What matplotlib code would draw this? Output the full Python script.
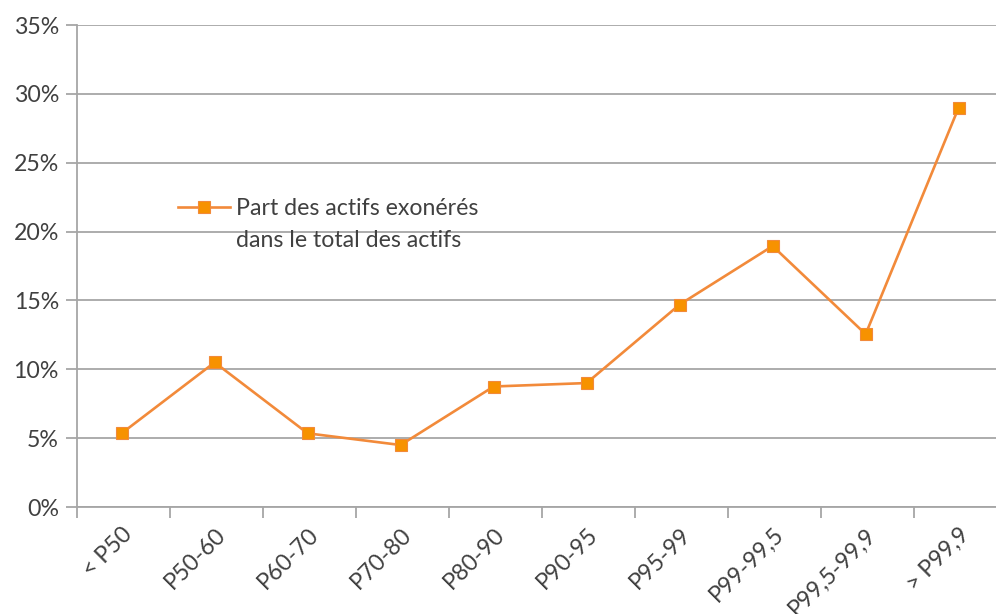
import matplotlib
matplotlib.use("Agg")
import matplotlib.pyplot as plt
from matplotlib.ticker import FixedLocator, NullFormatter, FuncFormatter

categories = ["< P50", "P50-60", "P60-70", "P70-80", "P80-90", "P90-95",
              "P95-99", "P99-99,5", "P99,5-99,9", "> P99,9"]
share_exempt = [5.35, 10.5, 5.35, 4.5, 8.75, 9.0, 14.7, 18.95, 12.55, 29.0]
series_label = ["Part des actifs exonérés", "dans le total des actifs"]
y_ticks = [0, 5, 10, 15, 20, 25, 30, 35]

plt.rcParams["font.family"] = ["Lato", "DejaVu Sans"]
text_color = "#404040"
grid_color = "#a6a6a6"
fs = 16.7

W, H = 996, 614
fig = plt.figure(figsize=(W / 100, H / 100), dpi=100)
ax = fig.add_axes([77 / W, 107 / H, 930 / W, 482 / H])

x = list(range(len(categories)))
ax.plot(x, share_exempt, color="#F28A3A", lw=1.9, marker="s", ms=8.5,
        mfc="#F79200", mec="#F28A3A", mew=0.8, label=series_label[0], zorder=3)

ax.set_xlim(-0.48, len(categories) - 0.48)
ax.set_ylim(0, 35)

ax.set_yticks(y_ticks)
ax.yaxis.set_major_formatter(FuncFormatter(lambda v, p: f"{v:.0f}%"))
ax.grid(axis="y", color=grid_color, lw=1.3)
ax.set_axisbelow(True)

ax.xaxis.set_major_locator(FixedLocator([i - 0.48 for i in range(len(categories) + 1)]))
ax.xaxis.set_major_formatter(NullFormatter())
ax.xaxis.set_minor_locator(FixedLocator(x))
ax.set_xticklabels(categories, minor=True)
ax.tick_params(axis="x", which="minor", length=0, pad=12, labelsize=fs,
               labelcolor=text_color, labelrotation=45)
for lbl in ax.get_xticklabels(minor=True):
    lbl.set_ha("right")
    lbl.set_va("top")
    lbl.set_rotation_mode("anchor")
ax.tick_params(axis="x", which="major", length=8, color=grid_color, width=1.3)
ax.tick_params(axis="y", length=8, color=grid_color, width=1.3, pad=5,
               labelsize=fs, labelcolor=text_color)

for s in ("top", "right"):
    ax.spines[s].set_visible(False)
for s in ("left", "bottom"):
    ax.spines[s].set_color(grid_color)
    ax.spines[s].set_linewidth(1.3)

leg = ax.legend(loc="upper left", bbox_to_anchor=(101 / 930, 309 / 482),
                frameon=False, fontsize=fs, handlelength=2.25,
                handletextpad=0.25, borderpad=0, borderaxespad=0,
                labelcolor=text_color)

# second line of the legend label, set under the first one
fig.canvas.draw()
first = leg.get_texts()[0].get_window_extent()
fig.text(first.x0 / W, (first.y0 - 32) / H, series_label[1],
         fontsize=fs, color=text_color, ha="left", va="bottom")

fig.savefig("out.png", dpi=100)
